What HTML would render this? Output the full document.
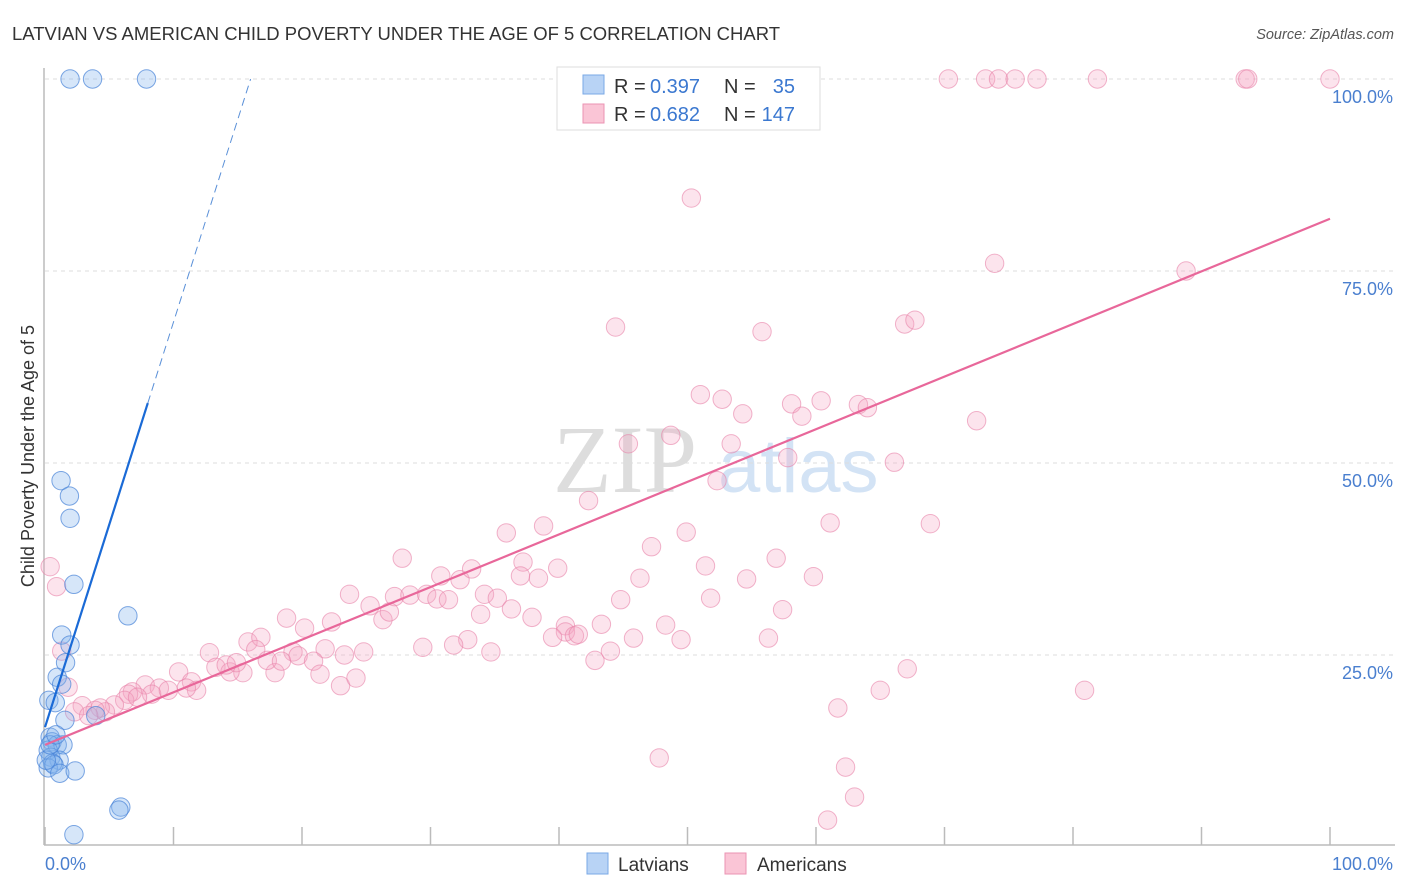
<!DOCTYPE html>
<html><head><meta charset="utf-8"><style>
body{margin:0;background:#fff;font-family:"Liberation Sans",sans-serif}
svg{display:block}
</style></head><body>
<svg id="chart" width="1406" height="892" viewBox="0 0 1406 892">
<text x="12" y="40" font-size="18" fill="#333" textLength="768" lengthAdjust="spacingAndGlyphs">LATVIAN VS AMERICAN CHILD POVERTY UNDER THE AGE OF 5 CORRELATION CHART</text>
<text x="1394" y="39" font-size="14.5" fill="#555" text-anchor="end" font-style="italic">Source: ZipAtlas.com</text>
<g>
<text x="553" y="492" font-size="96" fill="#ddd" font-family="Liberation Serif,serif">ZIP</text>
<text x="718" y="492" font-size="76" fill="#d3e3f5">atlas</text>
</g>
<g id="grid"></g><g id="axes"></g><g id="pts"></g><g id="trends"></g>
<text transform="translate(34,456) rotate(-90)" font-size="18" fill="#333" text-anchor="middle">Child Poverty Under the Age of 5</text>
<g>
<rect x="557" y="67" width="263" height="63" fill="#fff" stroke="#ddd"/>
<rect x="583" y="75" width="21" height="19" fill="#b8d3f5" stroke="#7aa8e6"/>
<rect x="583" y="104" width="21" height="19" fill="#fac5d6" stroke="#eb93b3"/>
<text x="614" y="93" font-size="20" fill="#333">R =</text>
<text x="650" y="93" font-size="20" fill="#3b78d0">0.397</text>
<text x="724" y="93" font-size="20" fill="#333">N =</text>
<text x="795" y="93" font-size="20" fill="#3b78d0" text-anchor="end">35</text>
<text x="614" y="121" font-size="20" fill="#333">R =</text>
<text x="650" y="121" font-size="20" fill="#3b78d0">0.682</text>
<text x="724" y="121" font-size="20" fill="#333">N =</text>
<text x="795" y="121" font-size="20" fill="#3b78d0" text-anchor="end">147</text>
</g>
<g>
<rect x="587" y="853" width="21" height="21" fill="#b8d3f5" stroke="#7aa8e6"/>
<text x="618" y="871" font-size="19" fill="#333">Latvians</text>
<rect x="725" y="853" width="21" height="21" fill="#fac5d6" stroke="#eb93b3"/>
<text x="757" y="871" font-size="19" fill="#333">Americans</text>
</g>
</svg>
<script>
const yTicks=[25,50,75,100];
const yTickLabels=["25.0%","50.0%","75.0%","100.0%"];
const xTicks=[0,10,20,30,40,50,60,70,80,90,100];
const latX=[1.95,3.7,7.9,1.25,1.9,1.95,2.25,6.45,1.3,1.95,1.6,0.95,1.3,0.3,0.8,1.55,3.95,0.4,0.55,0.95,1.4,0.25,0.45,1.1,0.6,0.25,0.7,1.15,2.35,5.9,5.75,2.25,0.1,0.4,0.85];
const latY=[100,100,100,47.7,45.7,42.8,34.2,30.1,27.6,26.3,24.0,22.1,21.2,19.1,18.8,16.5,17.1,14.3,13.7,13.3,13.3,12.6,11.7,11.3,10.9,10.3,10.7,9.6,9.9,5.2,4.8,1.6,11.3,13.3,14.6];
const amX=[53.7,59.1,70.3,73.2,74.2,75.5,77.2,81.9,93.4,93.6,100,47.1,55.4,50.3,73.9,88.8,44.4,55.8,66.9,67.7,51.0,52.7,54.3,58.1,58.9,60.4,63.3,64.0,72.5,45.4,48.7,53.4,57.8,66.1,52.3,42.3,35.9,38.8,49.9,61.1,68.9,47.2,27.8,56.9,51.4,37.2,46.3,54.6,59.8,39.9,37.0,38.4,30.8,32.3,33.2,23.7,25.3,27.2,28.4,29.7,30.5,31.4,34.2,35.2,36.3,37.9,44.8,51.8,57.4,18.8,20.2,22.3,26.3,26.8,33.9,40.5,43.3,48.3,40.5,41.2,41.5,39.5,45.8,56.3,15.8,16.8,12.8,16.4,19.3,19.7,21.8,23.3,24.8,32.9,29.4,31.8,34.7,42.8,44.0,49.5,13.3,15.4,14.4,14.1,14.9,17.9,17.3,18.4,20.9,21.4,23.0,24.2,10.4,11.4,11.8,11.0,7.8,8.9,6.8,6.5,8.3,9.6,6.2,7.2,5.4,4.7,4.3,2.9,3.9,2.3,3.4,1.8,1.3,0.4,0.9,67.1,65.0,80.9,61.7,47.8,62.3,63.0,60.9];
const amY=[100,100,100,100,100,100,100,100,100,100,100,95.3,96.7,84.5,76.0,75.0,67.7,67.1,68.1,68.6,58.9,58.3,56.4,57.7,56.1,58.1,57.6,57.2,55.5,52.5,53.6,52.5,50.7,50.1,47.7,45.1,40.9,41.8,41.0,42.2,42.1,39.1,37.6,37.6,36.6,37.1,35.0,34.9,35.2,36.3,35.3,35.0,35.3,34.8,36.2,32.9,31.4,32.6,32.8,32.9,32.3,32.2,32.9,32.4,31.0,29.9,32.2,32.4,30.9,29.8,28.5,29.3,29.6,30.6,30.3,28.8,29.0,28.9,28.0,27.5,27.7,27.3,27.2,27.2,26.7,27.3,25.3,25.7,25.4,24.9,25.8,25.0,25.4,27.0,26.0,26.3,25.4,24.3,25.5,27.0,23.4,22.7,22.8,23.7,24.0,22.7,24.3,24.2,24.2,22.5,21.0,22.0,22.8,21.5,20.4,20.7,21.1,20.7,20.2,19.9,19.9,20.4,19.1,19.5,18.5,17.6,18.1,18.4,17.8,17.6,17.1,20.8,25.5,36.5,33.9,23.2,20.4,20.4,18.1,11.6,10.4,6.5,3.5];
const latTrend=[0,15.6,8,57.8,16,100];
const amTrend=[0,13.3,100,81.8];
const NS="http://www.w3.org/2000/svg";
const X=v=>45+v*12.85, Y=v=>847-v*7.68;
function mk(tag,attrs,parent){const e=document.createElementNS(NS,tag);for(const k in attrs)e.setAttribute(k,attrs[k]);document.getElementById(parent).appendChild(e);return e;}
yTicks.forEach((t,i)=>{
 const l=mk('line',{x1:45,x2:1395,y1:Y(t),y2:Y(t),stroke:'#ddd','stroke-dasharray':'4,4'},'grid');
 
 
 const tx=mk('text',{x:1393,y:Y(t)+24,'font-size':18,fill:'#4a7fcf','text-anchor':'end'},'grid');
 tx.textContent=yTickLabels[i];
 
 
});
const ax=mk('line',{x1:44,x2:44,y1:68,y2:845,stroke:'#bbb','stroke-width':1.5},'axes');


const bx=mk('line',{x1:44,x2:1395,y1:845,y2:845,stroke:'#bbb','stroke-width':1.5},'axes');


xTicks.forEach(t=>{
 const l=mk('line',{x1:X(t),x2:X(t),y1:827,y2:845,stroke:'#bbb','stroke-width':1.5},'axes');
 
 
});
const x0=mk('text',{x:45,y:870,'font-size':18,fill:'#4a7fcf'},'axes');x0.textContent='0.0%';


const x1=mk('text',{x:1393,y:870,'font-size':18,fill:'#4a7fcf','text-anchor':'end'},'axes');x1.textContent='100.0%';


amX.forEach((v,i)=>{
 const c=mk('circle',{cx:X(v),cy:Y(amY[i]),r:9.2,fill:'rgba(246,165,195,0.3)',stroke:'rgba(232,130,168,0.6)','stroke-width':1},'pts');
 
 
});
latX.forEach((v,i)=>{
 const c=mk('circle',{cx:X(v),cy:Y(latY[i]),r:9.2,fill:'rgba(130,178,238,0.33)',stroke:'rgba(70,130,215,0.7)','stroke-width':1},'pts');
 
 
});
const lt=mk('line',{x1:X(latTrend[0]),y1:Y(latTrend[1]),x2:X(latTrend[2]),y2:Y(latTrend[3]),stroke:'#1a6ad6','stroke-width':2.2},'trends');


const ld=mk('line',{x1:X(latTrend[2]),y1:Y(latTrend[3]),x2:X(latTrend[4]),y2:Y(latTrend[5]),stroke:'#5a90d8','stroke-width':1,'stroke-dasharray':'8,5'},'trends');


const at=mk('line',{x1:X(amTrend[0]),y1:Y(amTrend[1]),x2:X(amTrend[2]),y2:Y(amTrend[3]),stroke:'#e8679a','stroke-width':2.2},'trends');


</script>
</body></html>
